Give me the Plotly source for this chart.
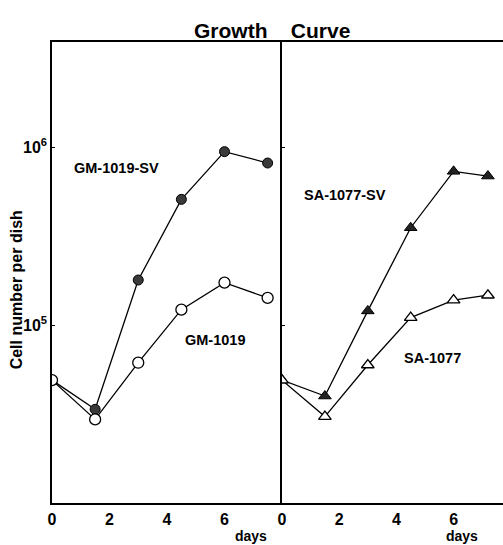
import plotly.graph_objects as go
from plotly.subplots import make_subplots

# Days after seeding
days_gm = [0, 1.5, 3, 4.5, 6, 7.5]
days_sa = [0, 1.5, 3, 4.5, 6, 7.2]

# Cell number per dish
gm_sv = [49000, 33600, 179000, 508000, 942000, 813000]
gm = [49000, 29500, 61400, 122000, 173000, 142000]
sa_sv = [49000, 39900, 120000, 352000, 730000, 687000]
sa = [49000, 30600, 59600, 110000, 138000, 147000]

x_ticks = [0, 2, 4, 6]
y_ticks = [1e5, 1e6]
y_tick_text = ["<b>10<sup>5</sup></b>", "<b>10<sup>6</sup></b>"]

FONT = "Liberation Sans, Arial, sans-serif"

fig = make_subplots(rows=1, cols=2, shared_yaxes=True, horizontal_spacing=0,
                    column_widths=[230, 221])

line = dict(color="black", width=1.3)

fig.add_trace(go.Scatter(x=days_gm, y=gm_sv, mode="lines+markers", line=line,
                         marker=dict(symbol="circle", size=10, color="#3a3a3a",
                                     line=dict(color="black", width=1))), 1, 1)
fig.add_trace(go.Scatter(x=days_gm, y=gm, mode="lines+markers", line=line,
                         marker=dict(symbol="circle", size=11, color="white",
                                     line=dict(color="black", width=1.3))), 1, 1)
fig.add_trace(go.Scatter(x=days_sa, y=sa_sv, mode="lines+markers", line=line,
                         marker=dict(symbol="triangle-up", size=11, color="#222",
                                     line=dict(color="black", width=1))), 1, 2)
fig.add_trace(go.Scatter(x=days_sa, y=sa, mode="lines+markers", line=line,
                         marker=dict(symbol="triangle-up", size=11, color="white",
                                     line=dict(color="black", width=1.3))), 1, 2)

xaxis_common = dict(showgrid=False, zeroline=False, showline=True, linecolor="black",
                    linewidth=1.5, mirror=True, ticks="", tickvals=x_ticks,
                    ticktext=[f"<b>{v}</b>" for v in x_ticks],
                    tickfont=dict(family=FONT, size=16, color="black"),
                    ticklabelstandoff=1)
fig.update_xaxes(range=[0, 8], **xaxis_common, row=1, col=1)
fig.update_xaxes(range=[0, 221 / 28.6], **xaxis_common, row=1, col=2)

fig.update_yaxes(type="log", range=[4, 6.59], showgrid=False, zeroline=False,
                 showline=True, linecolor="black", linewidth=1.5,
                 ticks="inside", ticklen=3, tickcolor="black",
                 tickvals=y_ticks, ticktext=y_tick_text,
                 tickfont=dict(family=FONT, size=16, color="black"))
fig.update_yaxes(showticklabels=False, row=1, col=2)

ann_font = dict(family=FONT, size=14.5, color="black")
labels = [
    ("x", "y", 2.25, 5.882, "GM-1019-SV"),
    ("x", "y", 5.67, 4.916, "GM-1019"),
    ("x2", "y2", 2.2, 5.730, "SA-1077-SV"),
    ("x2", "y2", 5.25, 4.815, "SA-1077"),
]
for xr, yr, xv, yv, txt in labels:
    fig.add_annotation(xref=xr, yref=yr, x=xv, y=yv, text=f"<b>{txt}</b>",
                       showarrow=False, font=ann_font)

for xv in [0.441, 0.949]:
    fig.add_annotation(xref="paper", yref="paper", x=xv, y=-0.072, yanchor="middle",
                       text="<b>days</b>", showarrow=False,
                       font=dict(family=FONT, size=14, color="black"))

fig.add_annotation(xref="paper", yref="paper", x=0.488, y=1.054,
                   text="<b>Growth&nbsp;&nbsp;&nbsp;&nbsp;Curve</b>", showarrow=False,
                   font=dict(family=FONT, size=21, color="black"))

fig.add_annotation(xref="paper", yref="paper", x=-0.078, y=0.462, xshift=-11,
                   text="<b>Cell number per dish</b>", textangle=-90, showarrow=False,
                   font=dict(family=FONT, size=16, color="black"))

fig.update_layout(width=503, height=545, margin=dict(l=52, r=0, t=42, b=42),
                  plot_bgcolor="white", paper_bgcolor="white", showlegend=False)

fig.write_html("out.html")
